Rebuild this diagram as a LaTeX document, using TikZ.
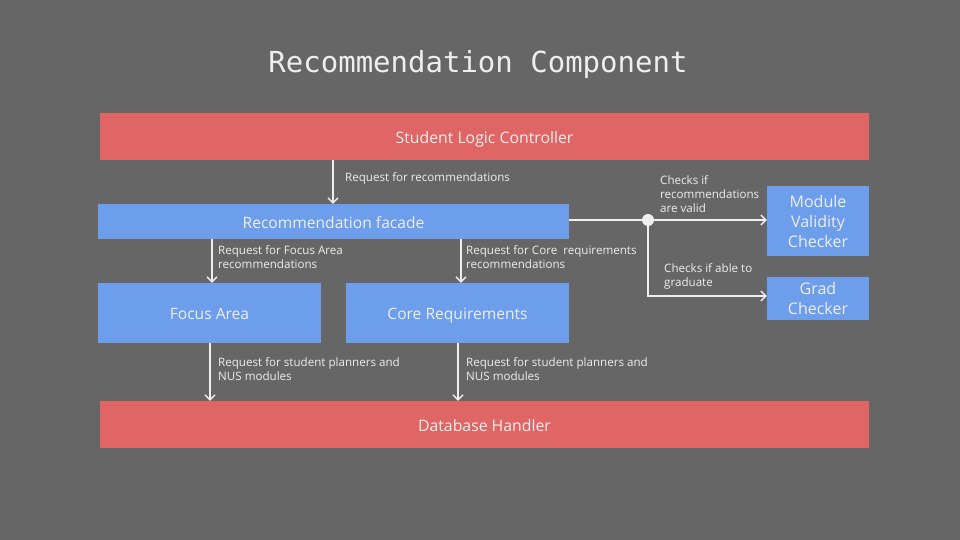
\documentclass[tikz,border=0pt]{standalone}
\usepackage{fontspec}
\setmainfont{Open Sans}
\newfontfamily\titlefont{DejaVu Sans Mono}
\usetikzlibrary{arrows.meta}
\definecolor{bg}{HTML}{666666}
\definecolor{redbox}{HTML}{E06666}
\definecolor{bluebox}{HTML}{6D9EEB}
\definecolor{fg}{HTML}{EEEEEE}
\tikzset{
  box/.style={inner sep=0pt, text=fg, align=center},
  redb/.style={box, fill=redbox, font=\fontsize{15.8}{18}\selectfont, text height=14pt, text depth=0pt},
  blueb/.style={box, fill=bluebox, font=\fontsize{15.6}{18}\selectfont, text height=13.5pt, text depth=0.5pt},
  chk/.style={box, fill=bluebox, font=\fontsize{16}{20}\selectfont},
  lbl/.style={anchor=north west, inner sep=0pt, text=fg, align=left, font=\fontsize{11.6}{14}\selectfont},
  conn/.style={draw=fg, line width=1.6pt, -{Straight Barb[length=5pt,width=10pt,line width=1.4pt]}},
}
\begin{document}
\begin{tikzpicture}[x=1pt,y=-1pt]
\fill[bg] (0,0) rectangle (960,540);
\useasboundingbox (0,0) rectangle (960,540);

\node[text=fg, font=\titlefont\fontsize{29}{34}\selectfont] (title) at (478,65) {Recommendation Component};

\node[redb, minimum width=769pt, minimum height=47pt] (slc) at (484.5,136.5) {Student Logic Controller};
\node[blueb, minimum width=471pt, minimum height=35pt] (facade) at (333.5,221.5) {Recommendation facade};
\node[blueb, minimum width=223pt, minimum height=60pt] (focus) at (209.5,313) {Focus Area};
\node[blueb, minimum width=223pt, minimum height=60pt] (core) at (457.5,313) {Core Requirements};
\node[redb, minimum width=769pt, minimum height=47pt] (db) at (484.5,424.5) {Database Handler};
\node[chk, minimum width=102pt, minimum height=70pt] (mvc) at (818,221) {Module\\Validity\\Checker};
\node[chk, minimum width=102pt, minimum height=43pt] (grad) at (818,298.5) {Grad\\Checker};

\coordinate (j) at (648,220);

\draw[conn] (slc.south -| 333,0) -- (facade.north -| 333,0);
\draw[conn] (facade.south -| 212,0) -- (focus.north -| 212,0);
\draw[conn] (facade.south -| 461,0) -- (core.north -| 461,0);
\draw[conn] (focus.south -| 210,0) -- (db.north -| 210,0);
\draw[conn] (core.south -| 458,0) -- (db.north -| 458,0);
\draw[draw=fg, line width=1.6pt] (facade.east |- j) -- (j);
\draw[conn] (j) -- (mvc.west |- j);
\draw[conn] (j) |- (grad.west |- 0,296);
\fill[fg] (j) circle (6pt);

\node[lbl] (l1) at (345,172) {Request for recommendations};
\node[lbl] (l2) at (218,245) {Request for Focus Area\\recommendations};
\node[lbl] (l3) at (466,245) {Request for Core\ \ requirements\\recommendations};
\node[lbl] (l4) at (218,357) {Request for student planners and\\NUS modules};
\node[lbl] (l5) at (466,357) {Request for student planners and\\NUS modules};
\node[lbl] (l6) at (660,175) {Checks if\\recommendations\\are valid};
\node[lbl] (l7) at (664,263) {Checks if able to\\graduate};
\end{tikzpicture}
\end{document}
